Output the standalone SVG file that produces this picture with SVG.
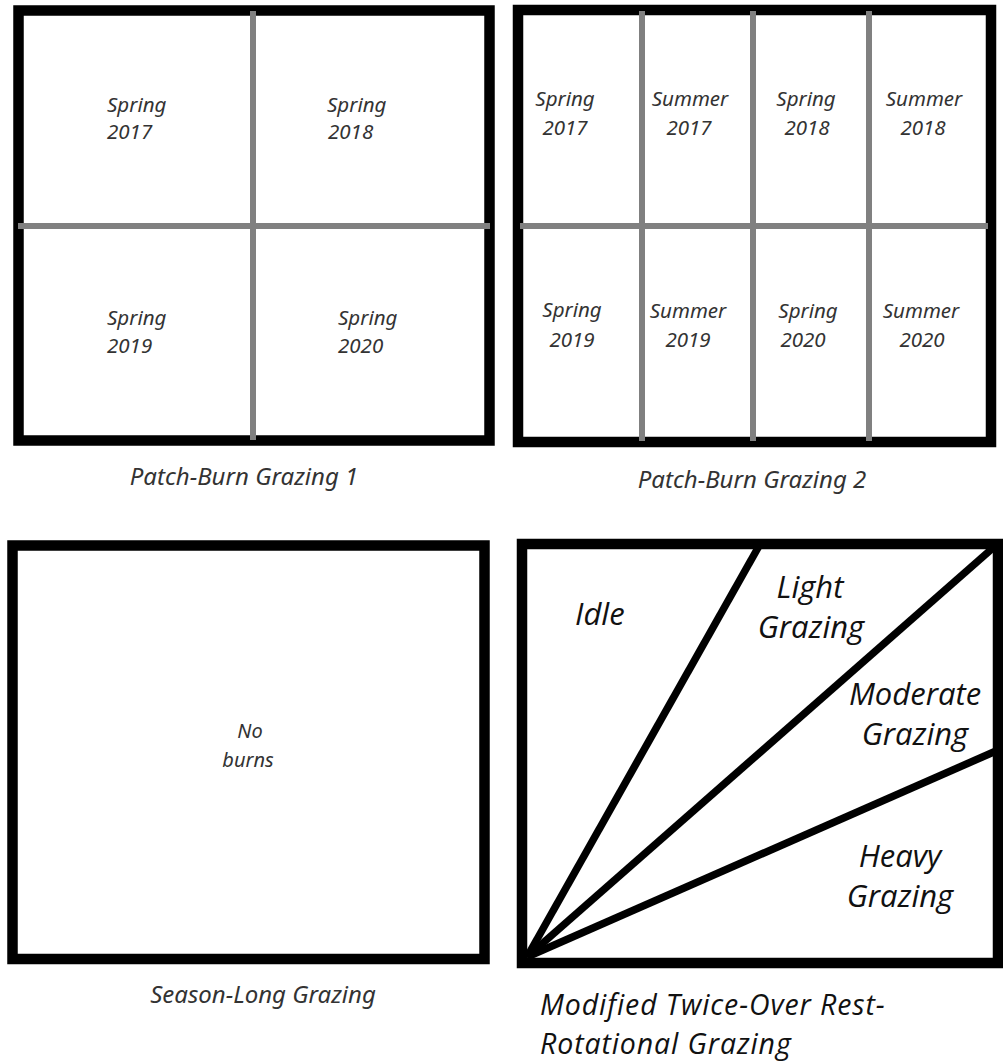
<svg xmlns="http://www.w3.org/2000/svg" width="1003" height="1063" viewBox="0 0 1003 1063">
<style>
.frame{fill:none;stroke:#000;stroke-width:10.5}
.div{stroke:#808080;stroke-width:6;fill:none}
.ray{stroke:#000;stroke-width:7.5;fill:none}
.t{font-family:"Noto Sans","DejaVu Sans",sans-serif;font-style:italic;font-size:20.5px;fill:#333}
.nb{font-size:20px}
.cap{font-family:"Noto Sans","DejaVu Sans",sans-serif;font-style:italic;font-size:24px;fill:#333}
.c{font-family:"Open Sans","Liberation Sans",sans-serif;font-style:italic;font-size:31px;fill:#111}
.cc{font-size:28.5px;letter-spacing:0.9px}
</style>
<rect width="1003" height="1063" fill="#fff"/>
<g id="patch-burn-1">
<rect class="frame" x="18.5" y="10.5" width="471" height="430"/>
<line class="div" x1="253" y1="11" x2="253" y2="440"/>
<line class="div" x1="18" y1="226" x2="490" y2="226"/>
<text class="t" x="107" y="112">Spring</text><text class="t" x="107" y="139">2017</text>
<text class="t" x="327" y="112">Spring</text><text class="t" x="328" y="139">2018</text>
<text class="t" x="107" y="325">Spring</text><text class="t" x="107" y="353">2019</text>
<text class="t" x="338" y="325">Spring</text><text class="t" x="338" y="353">2020</text>
<text class="cap" x="244" y="485" text-anchor="middle">Patch-Burn Grazing 1</text>
</g>
<g id="patch-burn-2">
<rect class="frame" x="518" y="10" width="473" height="432"/>
<line class="div" x1="642" y1="11" x2="642" y2="441"/>
<line class="div" x1="753" y1="11" x2="753" y2="441"/>
<line class="div" x1="869" y1="11" x2="869" y2="441"/>
<line class="div" x1="520" y1="226" x2="988" y2="226"/>
<g text-anchor="middle">
<text class="t" x="565" y="106">Spring</text><text class="t" x="565" y="135">2017</text>
<text class="t" x="690" y="106">Summer</text><text class="t" x="689" y="135">2017</text>
<text class="t" x="806" y="106">Spring</text><text class="t" x="807" y="135">2018</text>
<text class="t" x="924" y="106">Summer</text><text class="t" x="923" y="135">2018</text>
<text class="t" x="572" y="317">Spring</text><text class="t" x="572" y="347">2019</text>
<text class="t" x="688" y="318">Summer</text><text class="t" x="688" y="347">2019</text>
<text class="t" x="808" y="318">Spring</text><text class="t" x="803" y="347">2020</text>
<text class="t" x="921" y="318">Summer</text><text class="t" x="922" y="347">2020</text>
<text class="cap" x="752" y="488">Patch-Burn Grazing 2</text>
</g>
</g>
<g id="season-long">
<rect class="frame" x="12.5" y="545.5" width="472" height="413.5"/>
<g text-anchor="middle">
<text class="t nb" x="250" y="738">No</text>
<text class="t nb" x="248" y="767">burns</text>
<text class="cap" x="263" y="1003">Season-Long Grazing</text>
</g>
</g>
<g id="twice-over">
<rect class="frame" x="522" y="544" width="476" height="419"/>
<g id="connectors">
<line class="ray" x1="527" y1="957" x2="759" y2="546"/>
<line class="ray" x1="527" y1="957" x2="994" y2="547"/>
<line class="ray" x1="527" y1="957" x2="996" y2="751"/>
</g>
<text class="c" x="575" y="625">Idle</text>
<g text-anchor="middle">
<text class="c" x="810" y="598">Light</text><text class="c" x="811" y="638">Grazing</text>
<text class="c" x="915" y="705">Moderate</text><text class="c" x="915" y="745">Grazing</text>
<text class="c" x="900" y="867">Heavy</text><text class="c" x="900" y="907">Grazing</text>
</g>
<text class="c cc" x="540" y="1015">Modified Twice-Over Rest-</text>
<text class="c cc" x="540" y="1054">Rotational Grazing</text>
</g>
</svg>
